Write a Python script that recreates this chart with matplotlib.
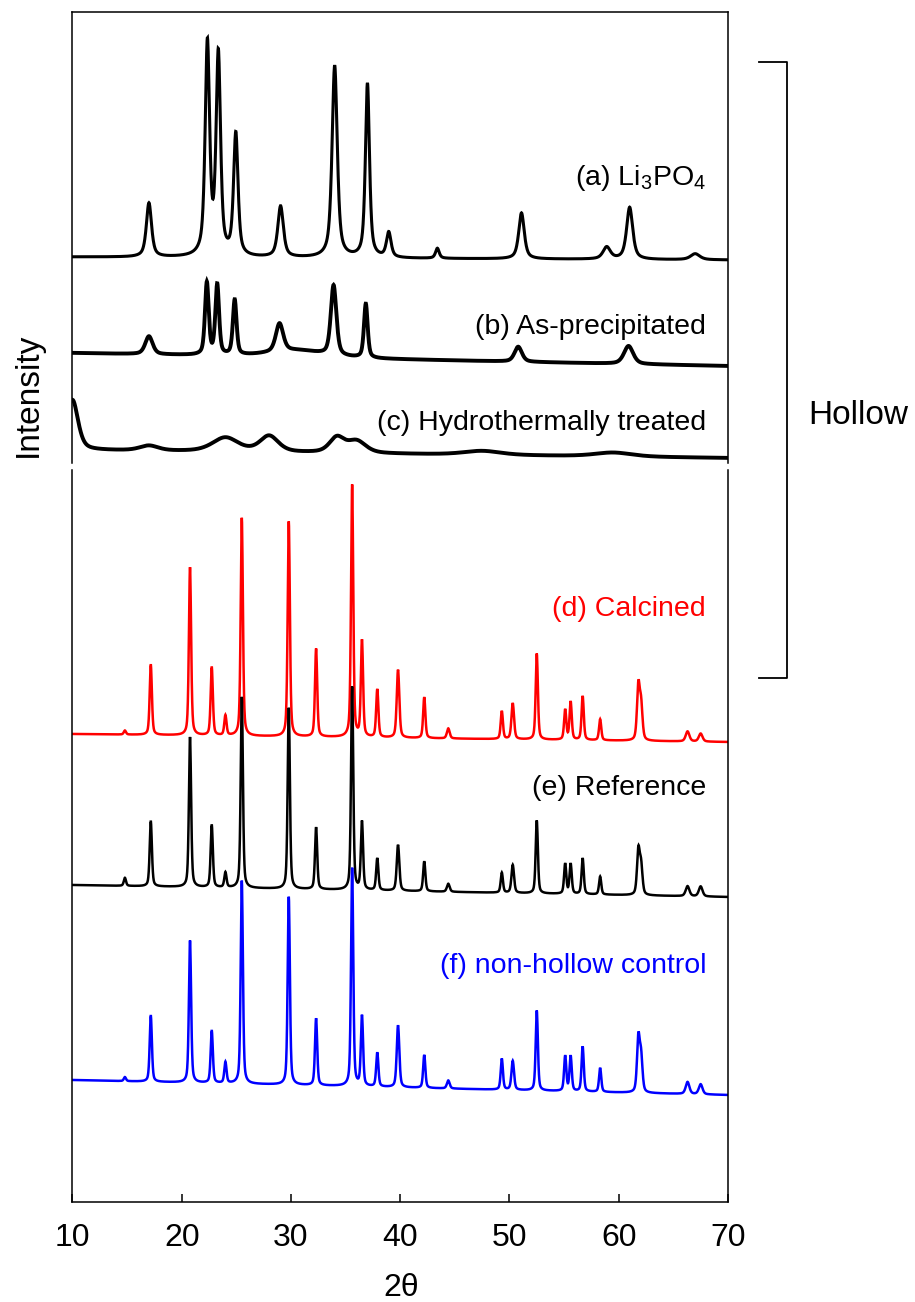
import numpy as np
import matplotlib.pyplot as plt
from matplotlib.lines import Line2D

plt.rcParams['font.family'] = ['Liberation Sans', 'DejaVu Sans']
plt.rcParams['mathtext.default'] = 'regular'

# ---------------------------------
# PEAK TABLES
# intensity units: stacked, arbitrary
# ---------------------------------

two_theta = np.arange(10, 70.001, 0.02)

# (a) Li3PO4
a_pos = [17.0, 22.35, 23.35, 24.95, 29.05, 34.0, 37.0, 38.95, 43.4, 51.1, 58.9, 61.0, 67.0]
a_height = [54, 212, 200, 122, 51, 192, 174, 25, 10, 46, 12, 52, 6]
a_width = [0.28, 0.24, 0.24, 0.24, 0.3, 0.28, 0.22, 0.25, 0.2, 0.3, 0.4, 0.33, 0.5]
a_base = (943, 940)

# (b) as-precipitated
b_pos = [17.0, 22.3, 23.25, 24.85, 28.95, 30.5, 33.9, 36.85, 50.8, 60.9]
b_height = [18, 72, 70, 55, 28, 7, 70, 54, 15, 18]
b_width = [0.4, 0.2, 0.2, 0.2, 0.4, 3.0, 0.3, 0.2, 0.4, 0.5]
b_base = (847, 834)

# (c) hydrothermally treated
c_pos = [10.0, 17.0, 24.0, 28.0, 34.2, 36.0, 47.5, 59.5]
c_height = [50, 5, 14, 16, 15, 12, 4, 4]
c_width = [0.6, 1.0, 1.4, 1.0, 0.8, 1.0, 2.0, 2.0]
c_base = (750, 742)

# (d)-(f) share the same reflections
def_pos = [14.8, 17.17, 20.76, 22.75, 24.0, 25.5, 29.8, 32.3, 35.6, 36.5, 37.9, 39.8,
           42.2, 44.4, 49.3, 50.3, 52.5, 55.1, 55.6, 56.7, 58.3, 61.8, 62.05, 66.3, 67.5]
def_width = [0.12, 0.12, 0.12, 0.12, 0.12, 0.12, 0.12, 0.12, 0.12, 0.12, 0.12, 0.14,
             0.12, 0.15, 0.12, 0.14, 0.12, 0.12, 0.12, 0.12, 0.12, 0.15, 0.15, 0.2, 0.2]
d_height = [4, 70, 168, 68, 20, 218, 215, 88, 252, 96, 48, 68,
            41, 10, 28, 36, 86, 30, 38, 44, 21, 54, 34, 10, 8]
e_height = [8, 65, 150, 62, 15, 191, 181, 62, 203, 68, 32, 46,
            30, 8, 20, 28, 73, 30, 30, 36, 18, 44, 28, 10, 10]
f_height = [4, 66, 142, 52, 21, 203, 188, 67, 218, 70, 34, 62,
            33, 8, 31, 29, 80, 35, 35, 45, 24, 54, 34, 12, 10]
d_base = (466, 458)
e_base = (315, 303)
f_base = (120, 105)

labels = [r'(a) Li$_3$PO$_4$', '(b) As-precipitated', '(c) Hydrothermally treated',
          '(d) Calcined', '(e) Reference', '(f) non-hollow control']
label_y = [1015, 866, 770, 584, 405, 227]
colors = ['black', 'black', 'black', '#ff0000', 'black', '#0000ff']
widths = [2.2, 2.8, 2.8, 1.8, 1.8, 1.8]
etas = [0.65, 0.5, 0.5, 0.45, 0.45, 0.45]


def pattern(pos, height, width, base, eta=0.5):
    y = np.linspace(base[0], base[1], two_theta.size)
    for c, h, w in zip(pos, height, width):
        d = (two_theta - c) / w
        y = y + h * (eta / (1 + d ** 2) + (1 - eta) * np.exp(-np.log(2) * d ** 2))
    return y


traces = [
    pattern(a_pos, a_height, a_width, a_base, etas[0]),
    pattern(b_pos, b_height, b_width, b_base, etas[1]),
    pattern(c_pos, c_height, c_width, c_base, etas[2]),
    pattern(def_pos, d_height, def_width, d_base, etas[3]),
    pattern(def_pos, e_height, def_width, e_base, etas[4]),
    pattern(def_pos, f_height, def_width, f_base, etas[5]),
]

# ---------------------------------
# PLOT
# ---------------------------------

fig = plt.figure(figsize=(9.15, 13.02), dpi=100)
ax = fig.add_axes([0.0792, 0.0768, 0.7164, 0.914])

for y, col, lw, lab, ly in zip(traces, colors, widths, labels, label_y):
    ax.plot(two_theta, y, color=col, lw=lw, solid_joinstyle='miter')
    ax.text(68.0, ly, lab, color=col, fontsize=20.5, ha='right', va='baseline')

ax.set_xlim(10, 70)
ax.set_ylim(-2, 1188)
ax.set_xticks([10, 20, 30, 40, 50, 60, 70])
ax.set_yticks([])
ax.tick_params(axis='x', direction='in', length=6, width=1.1, labelsize=23, pad=15)

for s in ['top', 'bottom']:
    ax.spines[s].set_linewidth(1.1)
# side frame lines are broken where the two panels were joined
ax.spines['left'].set_visible(False)
ax.spines['right'].set_visible(False)
for xs in [0, 1]:
    ax.add_line(Line2D([xs, xs], [0, 0.6151], transform=ax.transAxes, color='black', lw=1.1, clip_on=False))
    ax.add_line(Line2D([xs, xs], [0.621, 1], transform=ax.transAxes, color='black', lw=1.1, clip_on=False))

fig.text(0.0306, 0.6966, 'Intensity', rotation=90, fontsize=24, ha='center', va='center')
fig.text(0.438, 0.0105, '2\u03b8', fontsize=23, ha='center', va='center')

# "Hollow" bracket
bx = np.array([759, 787, 787, 759]) / 915
by = 1 - np.array([62, 62, 678, 678]) / 1302
fig.add_artist(Line2D(bx, by, color='black', lw=1.3))
fig.text(808 / 915, 1 - 415 / 1302, 'Hollow', fontsize=24, ha='left', va='center')

fig.savefig('out.png', dpi=100)
